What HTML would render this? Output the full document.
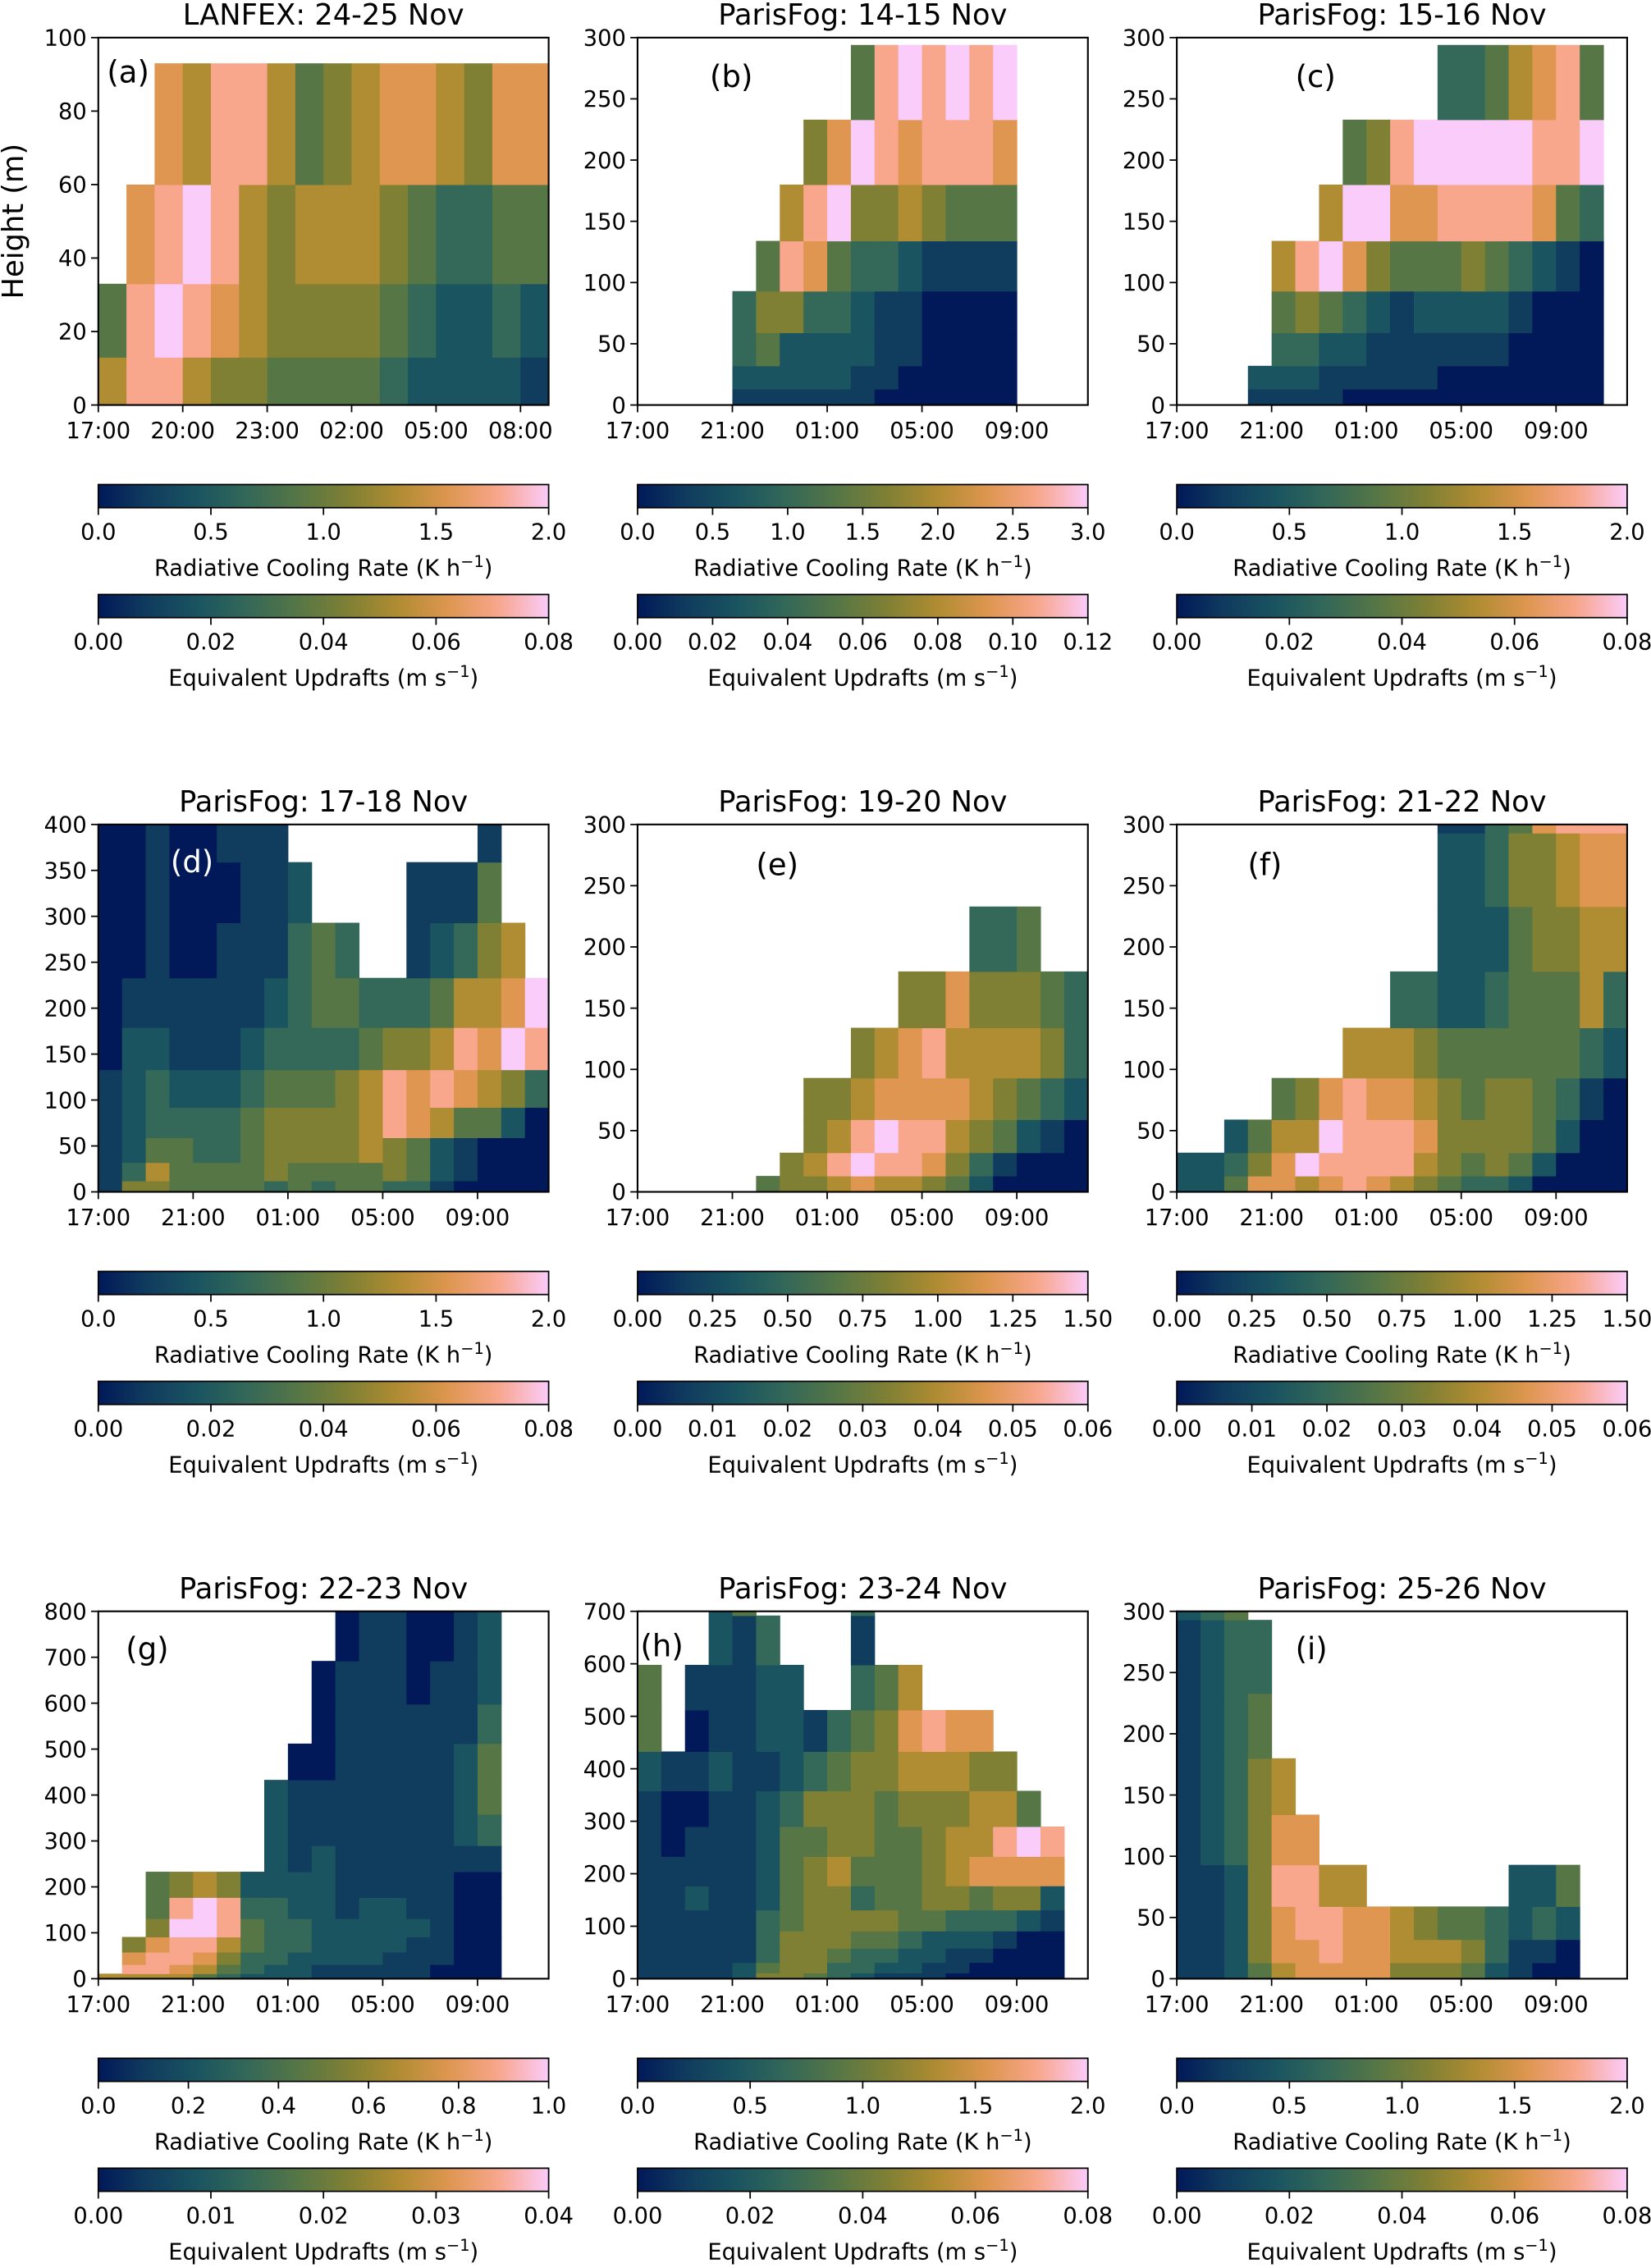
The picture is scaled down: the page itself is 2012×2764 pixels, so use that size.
<!DOCTYPE html>
<html><head><meta charset="utf-8"><title>Radiative cooling rate panels</title>
<style>
html,body{margin:0;padding:0;background:#fff;}
svg{display:block;}
text{font-family:"DejaVu Sans","Liberation Sans",sans-serif;fill:#000;}
</style></head>
<body>
<svg id="fig" xmlns="http://www.w3.org/2000/svg" viewBox="0 0 1142 1568" width="2012" height="2764" preserveAspectRatio="none">
<defs>
<linearGradient id="cmapGrad" x1="0" x2="1" y1="0" y2="0"></linearGradient>
</defs>
<text x="16" y="153" font-size="20" text-anchor="middle" transform="rotate(-90 16 153)">Height (m)</text>
</svg>
<script>
// ---------- data (levels 0-9 relative to colourbar maximum; '.' = no data; rows bottom-up) ----------
const titles = ["LANFEX: 24-25 Nov","ParisFog: 14-15 Nov","ParisFog: 15-16 Nov","ParisFog: 17-18 Nov","ParisFog: 19-20 Nov","ParisFog: 21-22 Nov","ParisFog: 22-23 Nov","ParisFog: 23-24 Nov","ParisFog: 25-26 Nov"];
const panelLetters = ["(a)","(b)","(c)","(d)","(e)","(f)","(g)","(h)","(i)"];

const edgesA = [0,13,33,60,93];
const gridA = ["6886554444322221","4898765555432232",".789865666543344","..76886456776577"];
const edgesB = [0,13,32,59,93,134,180,233,294];
const gridB = ["111111000000","222221100000","342222110000","355332110000",".48743321111","..6895565444","...579878887",".....4898989"];
const edgesC = [0,13,32,59,93,134,180,233,294];
const gridC = ["111100000000000","222111110000000",".33221111110000",".45432122221000",".68975444543210","...699778888743","....45899999889","........3346784"];
const edgesD = [0,12,32,59,92,133,179,233,293,359,430];
const gridD = ["1554444343443310000","1364444544445421000","1244334555565421000","1233334555568764420","1232223444568787653","0221112333345568798","0111111234433346679","00100111343..12356.","001000112....1114..","00100111........1.."];
const edgesE = [0,13,32,59,93,134,180,233];
const gridE = ["45567665420000",".5689887531000","..568988654210","..556777765432","....5678666653","......55755543",".........334.."];
const edgesF = [0,13,32,59,93,134,180,233,293,350];
const gridF = ["2247767876543320000","2235798888654542000","..24669888755554200","....457877654554310",".......666544444432",".........3322344463","...........22245566","...........22355677","...........11347888"];
const edgesG = [0,11,31,58,91,131,177,233,290,358,433,512,598,692,800];
const columnsG = ["6.............","6875..........","6887544.......","6788985.......","4678996.......","3456885.......","2334432.......","2233332222....","22233221110...","1122222211000.","11222111111110","11222211111111","11122211111111","11112111111100","00111111111110","00000001222111","00000001344322"];
const edgesH = [0,11,31,58,91,131,177,233,290,358,433,512,598,692,800];
const gridH = ["111125543211100000","111124553322110000","111113554332211000","111113555443222100","111113455554433321","112112455344554552","111112456444567777","101112445544566898","10011235554555664.","2112112345566655..","4.0112213457877...","4.11122..346......","...213...1........","...24....3........"];
const edgesI = [0,13,32,59,93,134,180,233,293,350];
const gridI = ["11246777755542100","11257787766653110","11257887765443232","11258866......224","123577...........","12356............","1234.............","1233.............","234.............."];

const startHour = [0,4,3,0,5,0,0,0,0];
const yMaxes = [100,300,300,400,300,300,800,700,300];
const yTicks1 = [0,20,40,60,80,100];
const yTicks300 = [0,50,100,150,200,250,300];
const yTicks400 = [0,50,100,150,200,250,300,350,400];
const yTicks800 = [0,100,200,300,400,500,600,700,800];
const yTicks700 = [0,100,200,300,400,500,600,700];
const xTicksLanfex = ["17:00","20:00","23:00","02:00","05:00","08:00"];
const xTicksParis = ["17:00","21:00","01:00","05:00","09:00"];

const crTicks20 = ["0.0","0.5","1.0","1.5","2.0"];
const crTicks30 = ["0.0","0.5","1.0","1.5","2.0","2.5","3.0"];
const crTicks15 = ["0.00","0.25","0.50","0.75","1.00","1.25","1.50"];
const crTicks10 = ["0.0","0.2","0.4","0.6","0.8","1.0"];
const udTicks08 = ["0.00","0.02","0.04","0.06","0.08"];
const udTicks12 = ["0.00","0.02","0.04","0.06","0.08","0.10","0.12"];
const udTicks06 = ["0.00","0.01","0.02","0.03","0.04","0.05","0.06"];
const udTicks04 = ["0.00","0.01","0.02","0.03","0.04"];

// ---------- colormap ----------
const cmapStops = [[0,[1,25,89]],[0.111,[16,60,94]],[0.222,[26,84,96]],[0.333,[52,104,88]],[0.444,[86,118,70]],[0.556,[128,128,52]],[0.667,[176,140,50]],[0.778,[222,150,80]],[0.889,[248,166,140]],[1,[250,204,250]]];
function cmap(t){
  t=Math.max(0,Math.min(1,t));
  for(let i=1;i<cmapStops.length;i++){
    if(t<=cmapStops[i][0]){
      const a=cmapStops[i-1],b=cmapStops[i];const f=(t-a[0])/(b[0]-a[0]);
      const c=a[1].map((v,k)=>Math.round(v+(b[1][k]-v)*f));
      return `rgb(${c[0]},${c[1]},${c[2]})`;
    }
  }
  return 'rgb(250,204,250)';
}
function transpose(cols){
  const n=cols[0].length;const out=[];
  for(let r=0;r<n;r++){let s='';for(let c=0;c<cols.length;c++)s+=cols[c][r];out.push(s);}
  return out;
}

const NS='http://www.w3.org/2000/svg';
const svg=document.getElementById('fig');
const grad=document.getElementById('cmapGrad');
for(let i=0;i<=40;i++){
  const st=document.createElementNS(NS,'stop');
  st.setAttribute('offset',(i/40));
  st.setAttribute('stop-color',cmap(i/40));
  grad.appendChild(st);
}
function el(tag,parent){const e=document.createElementNS(NS,tag);parent.appendChild(e);return e;}
function setA(e,o){for(const k in o)e.setAttribute(k,o[k]);return e;}

const lefts=[68,441,814], tops=[26,570,1114];
const W=311.5, H=254;
const grids=[gridA,gridB,gridC,gridD,gridE,gridF,transpose(columnsG),gridH,gridI];
const edges=[edgesA,edgesB,edgesC,edgesD,edgesE,edgesF,edgesG,edgesH,edgesI];
const yTickSets=[yTicks1,yTicks300,yTicks300,yTicks400,yTicks300,yTicks300,yTicks800,yTicks700,yTicks300];
const crSets=[crTicks20,crTicks30,crTicks20,crTicks20,crTicks15,crTicks15,crTicks10,crTicks20,crTicks20];
const udSets=[udTicks08,udTicks12,udTicks08,udTicks08,udTicks06,udTicks06,udTicks04,udTicks08,udTicks08];
const labelPos=[[74,57],[491,60],[896,60],[118,603],[523,605],[863,605],[87,1147],[443,1145],[896,1147]];

for(let p=0;p<9;p++){
  const L=lefts[p%3], T=tops[Math.floor(p/3)];
  const lanfex=(p===0);
  const xMax=lanfex?16:19;
  const yMax=yMaxes[p];
  const xs=h=>L+h/xMax*W;
  const ys=m=>T+H-m/yMax*H;
  const g=el('g',svg);
  
  

  const cp=el('clipPath',g);cp.setAttribute('id','clip'+p);
  setA(el('rect',cp),{x:L,y:T,width:W,height:H});
  const cells=el('g',g);
  cells.setAttribute('clip-path','url(#clip'+p+')');
  
  
  const grid=grids[p], ed=edges[p];
  for(let r=0;r<grid.length;r++){
    for(let c=0;c<grid[r].length;c++){
      const ch=grid[r][c]; if(ch==='.')continue;
      const v=(+ch)/9;
      const x0=xs(startHour[p]+c), x1=xs(startHour[p]+c+1);
      const y0=ys(ed[r+1]), y1=ys(ed[r]);
      const rc=el('rect',cells);
      setA(rc,{x:x0,y:y0,width:x1-x0+0.3,height:y1-y0+0.3,fill:cmap(v)});
      
      
    }
  }
  const fr=el('rect',g);
  setA(fr,{x:L,y:T,width:W,height:H,fill:'none',stroke:'#000','stroke-width':1.2});
  
  

  // title
  const tt=el('text',g);
  setA(tt,{x:L+W/2,y:T-9,'font-size':20,'text-anchor':'middle'});
  tt.textContent=titles[p];
  
  
  // letter
  const lt=el('text',g);
  setA(lt,{x:labelPos[p][0],y:labelPos[p][1],'font-size':21});
  if(p===3)lt.setAttribute('style','fill:#fff');
  lt.textContent=panelLetters[p];
  
  

  // y ticks
  for(const v of yTickSets[p]){
    const yy=ys(v);
    setA(el('line',g),{x1:L-5,x2:L,y1:yy,y2:yy,stroke:'#000','stroke-width':1});
    const t=el('text',g);
    setA(t,{x:L-8,y:yy+5.5,'font-size':15.5,'text-anchor':'end'});
    t.textContent=String(v);
    
    
  }
  // x ticks
  const xt=lanfex?xTicksLanfex:xTicksParis;
  const step=lanfex?3:4;
  xt.forEach((lab,i)=>{
    const xx=xs(i*step);
    setA(el('line',g),{x1:xx,x2:xx,y1:T+H,y2:T+H+5,stroke:'#000','stroke-width':1});
    const t=el('text',g);
    setA(t,{x:xx,y:T+H+23,'font-size':15.5,'text-anchor':'middle'});
    t.textContent=lab;
    
    
  });

  // colorbars
  const bars=[[crSets[p],309,'Radiative Cooling Rate (K h','−1',')','cooling-rate-colorbar'],[udSets[p],385,'Equivalent Updrafts (m s','−1',')','updraft-colorbar']];
  for(const b of bars){
    const by=T+b[1];
    const cb=el('g',g);
    
    
    setA(el('rect',cb),{x:L,y:by,width:W,height:16,fill:'url(#cmapGrad)',stroke:'#000','stroke-width':1});
    const ticks=b[0];
    ticks.forEach((lab,i)=>{
      const xx=L+i/(ticks.length-1)*W;
      setA(el('line',cb),{x1:xx,x2:xx,y1:by+16,y2:by+21,stroke:'#000','stroke-width':1});
      const t=el('text',cb);
      setA(t,{x:xx,y:by+38,'font-size':15.5,'text-anchor':'middle'});
      t.textContent=lab;
      
      
    });
    const lbl=el('text',cb);
    setA(lbl,{x:L+W/2,y:by+63,'font-size':15.5,'text-anchor':'middle'});
    lbl.appendChild(document.createTextNode(b[2]));
    const sup=el('tspan',lbl);
    setA(sup,{dy:-6,'font-size':11});
    sup.textContent=b[3];
    const rest=el('tspan',lbl);
    setA(rest,{dy:6});
    rest.textContent=b[4];
    
    
  }
}
</script>
</body></html>
